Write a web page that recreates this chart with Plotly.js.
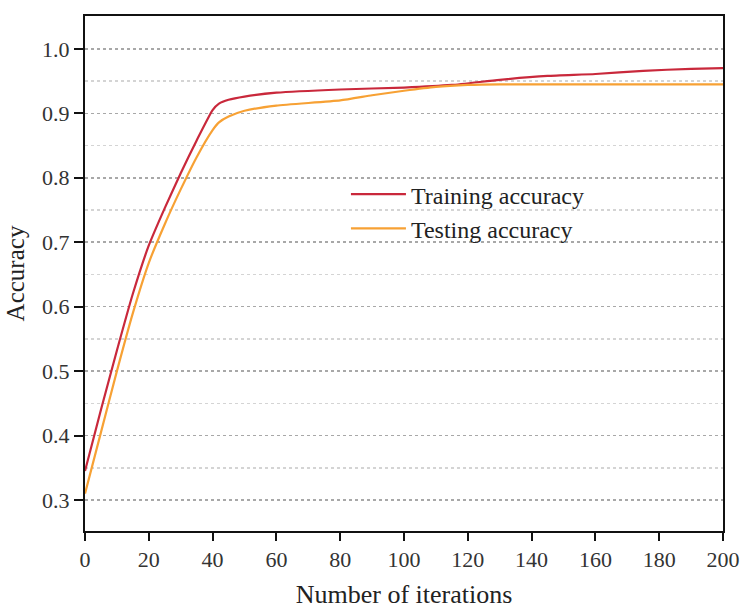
<!DOCTYPE html>
<html>
<head>
<meta charset="utf-8">
<script src="https://cdn.plot.ly/plotly-3.0.1.min.js"></script>
<style>html,body{margin:0;padding:0;background:#fff;}#chart{width:740px;height:609px;}</style>
</head>
<body>
<div id="chart"></div>
<script>
const trainX = [0, 5, 10, 15, 20, 25, 30, 35, 40, 42, 45, 50, 60, 80, 100, 115, 130, 145, 160, 175, 190, 200];
const trainY = [0.345, 0.44, 0.532, 0.62, 0.695, 0.753, 0.807, 0.858, 0.905, 0.915, 0.921, 0.926, 0.932, 0.937, 0.940, 0.944, 0.952, 0.958, 0.961, 0.966, 0.969, 0.970];
const testX = [0, 5, 10, 15, 20, 25, 30, 35, 40, 42, 45, 50, 60, 80, 90, 100, 110, 120, 130, 160, 200];
const testY = [0.31, 0.405, 0.50, 0.59, 0.668, 0.728, 0.782, 0.832, 0.874, 0.886, 0.895, 0.904, 0.912, 0.920, 0.928, 0.935, 0.941, 0.944, 0.945, 0.945, 0.945];
const seriesNames = ['Training accuracy', 'Testing accuracy'];
const xTicks = [0, 20, 40, 60, 80, 100, 120, 140, 160, 180, 200];
const yTicks = [0.3, 0.4, 0.5, 0.6, 0.7, 0.8, 0.9, 1.0];

const font = 'Liberation Serif, Times New Roman, serif';
const traces = [
  {x: trainX, y: trainY, name: seriesNames[0], mode: 'lines', line: {color: '#c9283b', width: 2.2, shape: 'spline', smoothing: 0.5}},
  {x: testX, y: testY, name: seriesNames[1], mode: 'lines', line: {color: '#f7a134', width: 2.2, shape: 'spline', smoothing: 0.5}}
];
const layout = {
  width: 740, height: 609,
  margin: {l: 85, r: 17, t: 16, b: 78},
  paper_bgcolor: '#fff', plot_bgcolor: '#fff',
  font: {family: font, color: '#222', size: 22},
  showlegend: true,
  legend: {x: 0.409, y: 0.697, xanchor: 'left', yanchor: 'top', bgcolor: 'rgba(0,0,0,0)',
           font: {family: font, size: 24, color: '#222'}, tracegroupgap: 0, itemwidth: 55},
  xaxis: {
    range: [0, 200], tickvals: xTicks, ticktext: xTicks.map(String),
    showline: true, linecolor: '#111', linewidth: 2, mirror: true,
    ticks: 'outside', ticklen: 8, tickwidth: 2, tickcolor: '#111',
    showgrid: false, zeroline: false,
    tickfont: {family: font, size: 22, color: '#333'},
    title: {text: 'Number of iterations', font: {family: font, size: 26, color: '#222'}, standoff: 16}
  },
  yaxis: {
    range: [0.252, 1.051], tickvals: yTicks, ticktext: yTicks.map(v => v.toFixed(1)),
    showline: true, linecolor: '#111', linewidth: 2, mirror: true,
    ticks: 'outside', ticklen: 9, tickwidth: 2, tickcolor: '#111',
    showgrid: true, gridcolor: '#a8a8a8', griddash: 'dot', gridwidth: 1.5, zeroline: false,
    minor: {dtick: 0.05, tick0: 0, showgrid: true, gridcolor: '#d4d4d4', griddash: 'dot', gridwidth: 1.5, ticks: ''},
    tickfont: {family: font, size: 22, color: '#333'},
    title: {text: 'Accuracy', font: {family: font, size: 25, color: '#222'}, standoff: 10}
  }
};
Plotly.newPlot('chart', traces, layout, {displayModeBar: false, staticPlot: true});
</script>
</body>
</html>
